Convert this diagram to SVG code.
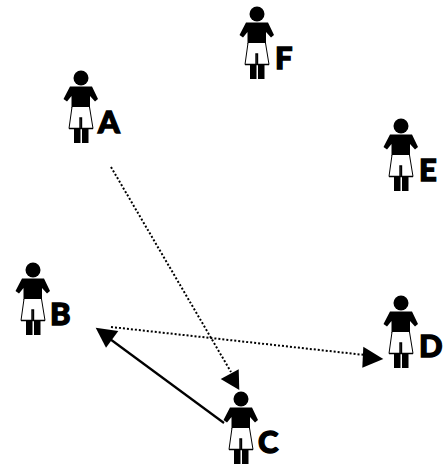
<svg xmlns="http://www.w3.org/2000/svg" width="448" height="464" viewBox="0 0 448 464">
<style>
.lb{font-family:"Lato","Open Sans",sans-serif;font-weight:900;font-size:31px;fill:#000;stroke:#000;stroke-width:1.300}
.s{stroke:#000;stroke-width:2.200;fill:none}
.d{stroke:#000;stroke-width:2;fill:none;stroke-dasharray:2 2}
</style>
<defs>
<g id="p">
<circle cx="0" cy="0" r="7.500"/>
<path d="M-11,8.500H11L17,21L14,23.500L9,18V30H-9.500V18L-14,23.500L-17.500,21Z"/>
<path d="M-9,29L-12,50.500H12L8.500,29" fill="#fff" stroke="#000" stroke-width="1"/>
<path d="M-12,50.500H-1V40H0.500V50.500H12" fill="none" stroke="#000" stroke-width="1.400"/>
<rect x="-7" y="51" width="6.500" height="14"/>
<rect x="1" y="51" width="6.500" height="14"/>
</g>
</defs>
<g id="connectors">
<path class="d" d="M111,167L231,372"/>
<path d="M238.700,369.300L220.700,379L239.300,390Z"/>
<path class="d" d="M111,327L365,355"/>
<path d="M363.300,346.700L383.300,359L362.300,367.700Z"/>
<path class="s" d="M224,423L110,339"/>
<path d="M95.700,327.700L118.300,331L106,347.700Z"/>
</g>
<g id="A"><use href="#p" x="81" y="78"/><text class="lb" x="98" y="133">A</text></g>
<g id="F"><use href="#p" x="257" y="14"/><text class="lb" x="275" y="69">F</text></g>
<g id="E"><use href="#p" x="401" y="126"/><text class="lb" x="419" y="181">E</text></g>
<g id="B"><use href="#p" x="33" y="270"/><text class="lb" x="50" y="325">B</text></g>
<g id="D"><use href="#p" x="401" y="303"/><text class="lb" x="419" y="357">D</text></g>
<g id="C"><use href="#p" x="241" y="399"/><text class="lb" x="258" y="453">C</text></g>
</svg>
